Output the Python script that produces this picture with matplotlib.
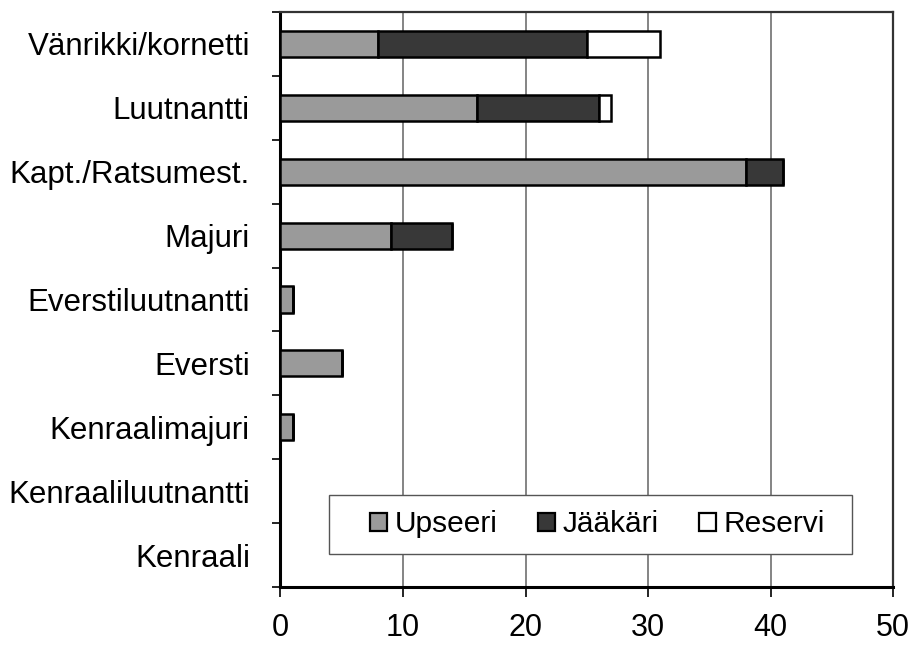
import matplotlib
matplotlib.use("Agg")
import matplotlib.pyplot as plt
from matplotlib.patches import Rectangle
import numpy as np

plt.rcParams['font.family'] = ['Liberation Sans', 'DejaVu Sans']

categories = ["Vänrikki/kornetti", "Luutnantti", "Kapt./Ratsumest.", "Majuri",
              "Everstiluutnantti", "Eversti", "Kenraalimajuri",
              "Kenraaliluutnantti", "Kenraali"]
upseeri = [8, 16, 38, 9, 1, 5, 1, 0, 0]
jaakari = [17, 10, 3, 5, 0, 0, 0, 0, 0]
reservi = [6, 1, 0, 0, 0, 0, 0, 0, 0]
series_names = ["Upseeri", "Jääkäri", "Reservi"]
x_ticks = [0, 10, 20, 30, 40, 50]

fig = plt.figure(figsize=(9.13, 6.48), dpi=100)
ax = fig.add_axes([0.3072, 0.0941, 0.671, 0.8874])

y = np.arange(len(categories))
colors = ["#9a9a9a", "#383838", "#ffffff"]
left = np.zeros(len(categories))
for vals, name, col in zip([upseeri, jaakari, reservi], series_names, colors):
    vals = np.array(vals, dtype=float)
    ax.barh(y, vals, height=0.41, left=left, color=col, edgecolor="black",
            linewidth=1.8, label=name, zorder=3)
    left += vals

ax.set_xlim(0, 50)
ax.set_ylim(len(categories) - 0.5, -0.5)
ax.set_xticks(x_ticks)
ax.set_xticklabels([str(v) for v in x_ticks], fontsize=22)
ax.set_yticks(y)
ax.set_yticklabels(categories, fontsize=22.5)
ax.tick_params(axis="y", which="major", length=0, pad=22)
ax.set_yticks(np.arange(-0.5, len(categories)), minor=True)
ax.tick_params(axis="y", which="minor", length=6, width=1.2, direction="out")
ax.tick_params(axis="x", length=7, width=1.2, direction="out", pad=12)

ax.grid(axis="x", color="#707070", linewidth=1.2, zorder=0)
for s in ["top", "right"]:
    ax.spines[s].set_color("#333333")
    ax.spines[s].set_linewidth(1.6)
for s in ["left", "bottom"]:
    ax.spines[s].set_color("black")
    ax.spines[s].set_linewidth(2.2)

# legend box as in the original (wider than the entries)
ax.add_patch(Rectangle((0.079, 0.057), 0.854, 0.103, transform=ax.transAxes,
                       facecolor="white", edgecolor="#555555", linewidth=1.0,
                       zorder=4))
leg = ax.legend(loc="center", bbox_to_anchor=(0.517, 0.109), ncol=3, fontsize=21.5,
                frameon=False, handlelength=0.57, handleheight=0.57,
                handletextpad=0.25, columnspacing=1.35, borderpad=0.2)
leg.set_zorder(5)
for h in leg.legend_handles:
    h.set_linewidth(1.6)

fig.savefig("out.png", dpi=100, facecolor="white")
